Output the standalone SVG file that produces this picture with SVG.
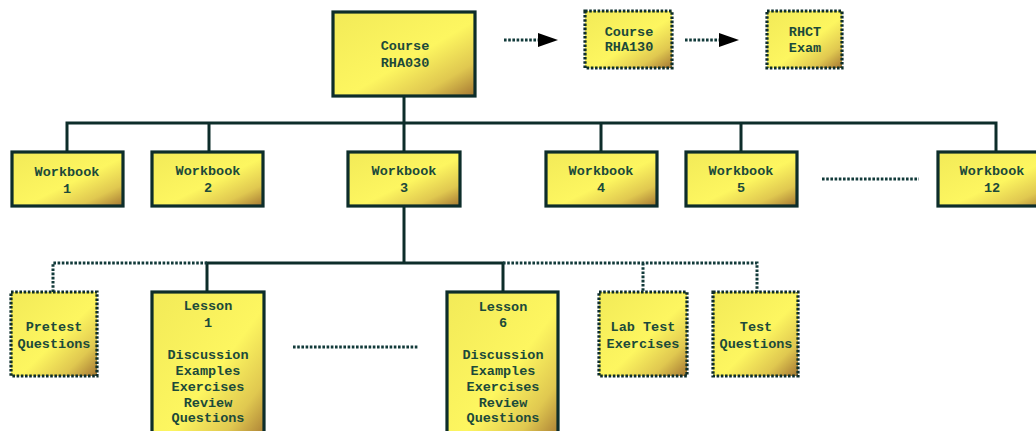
<svg xmlns="http://www.w3.org/2000/svg" width="1036" height="431" viewBox="0 0 1036 431">
<style>
.box{fill:url(#g);stroke:#0d2d2a;stroke-width:3.2}
.dbox{fill:url(#g);stroke:#0d2d2a;stroke-width:3.2;stroke-dasharray:2.6 1.6}
.ln{fill:none;stroke:#0d2d2a;stroke-width:3}
.dln{fill:none;stroke:#123a3a;stroke-width:3;stroke-dasharray:2.6 1.6}
text{font-family:"Liberation Mono","DejaVu Sans Mono",monospace;font-weight:bold;font-size:13.5px;fill:#1c4a3a;text-anchor:middle}
</style>
<defs>
<linearGradient id="g" x1="0" y1="0" x2="1" y2="1">
<stop offset="0" stop-color="#f2ea58"/>
<stop offset="0.55" stop-color="#fdf660"/>
<stop offset="0.8" stop-color="#e0c850"/>
<stop offset="1" stop-color="#a47632"/>
</linearGradient>
<marker id="ah" markerWidth="20" markerHeight="14" refX="0" refY="7" orient="auto" markerUnits="userSpaceOnUse">
<path d="M0,0 L20,7 L0,14 Z" fill="#000"/>
</marker>
</defs>
<g id="connectors">
<path class="ln" d="M404,96 V152 M67,152 V123 H996 V152 M209,123 V152 M601,123 V152 M741,123 V152"/>
<path class="ln" d="M404,207 V263 M207,292 V263 H503 V292"/>
<path class="dln" d="M53,292 V263 H207 M503,263 H757 V292 M643,263 V292"/>
<path class="dln" d="M504,40 H538" marker-end="url(#ah)"/>
<path class="dln" d="M685,40 H719" marker-end="url(#ah)"/>
<path class="dln" d="M822,179 H919"/>
<path class="dln" d="M293,347 H418"/>
</g>
<g id="course-rha030"><rect class="box" x="333" y="12" width="142" height="84"/><text x="405" y="50">Course</text><text x="405" y="67">RHA030</text></g>
<g id="course-rha130"><rect class="dbox" x="585" y="11" width="87" height="57"/><text x="629" y="36">Course</text><text x="629" y="51">RHA130</text></g>
<g id="rhct-exam"><rect class="dbox" x="767" y="11" width="75" height="57"/><text x="805" y="36">RHCT</text><text x="805" y="52">Exam</text></g>
<g id="workbook-1"><rect class="box" x="12" y="152" width="111" height="54"/><text x="67" y="176">Workbook</text><text x="67" y="193">1</text></g>
<g id="workbook-2"><rect class="box" x="152" y="152" width="111" height="54"/><text x="208" y="175">Workbook</text><text x="208" y="192">2</text></g>
<g id="workbook-3"><rect class="box" x="348" y="152" width="112" height="54"/><text x="404" y="175">Workbook</text><text x="404" y="192">3</text></g>
<g id="workbook-4"><rect class="box" x="546" y="152" width="111" height="54"/><text x="601" y="175">Workbook</text><text x="601" y="192">4</text></g>
<g id="workbook-5"><rect class="box" x="686" y="152" width="111" height="54"/><text x="741" y="175">Workbook</text><text x="741" y="192">5</text></g>
<g id="workbook-12"><rect class="box" x="938" y="152" width="116" height="54"/><text x="992" y="175">Workbook</text><text x="992" y="192">12</text></g>
<g id="pretest"><rect class="dbox" x="11" y="292" width="86" height="84"/><text x="54" y="331">Pretest</text><text x="54" y="348">Questions</text></g>
<g id="lesson-1"><rect class="box" x="152" y="292" width="112" height="150"/><text x="208" y="310">Lesson</text><text x="208" y="327">1</text><text x="208" y="359">Discussion</text><text x="208" y="375">Examples</text><text x="208" y="391">Exercises</text><text x="208" y="407">Review</text><text x="208" y="422">Questions</text></g>
<g id="lesson-6"><rect class="box" x="447" y="292" width="111" height="150"/><text x="503" y="311">Lesson</text><text x="503" y="327">6</text><text x="503" y="359">Discussion</text><text x="503" y="375">Examples</text><text x="503" y="391">Exercises</text><text x="503" y="407">Review</text><text x="503" y="422">Questions</text></g>
<g id="lab-test"><rect class="dbox" x="599" y="292" width="88" height="84"/><text x="643" y="331">Lab Test</text><text x="643" y="348">Exercises</text></g>
<g id="test-questions"><rect class="dbox" x="713" y="292" width="85" height="84"/><text x="756" y="331">Test</text><text x="756" y="348">Questions</text></g>
</svg>
